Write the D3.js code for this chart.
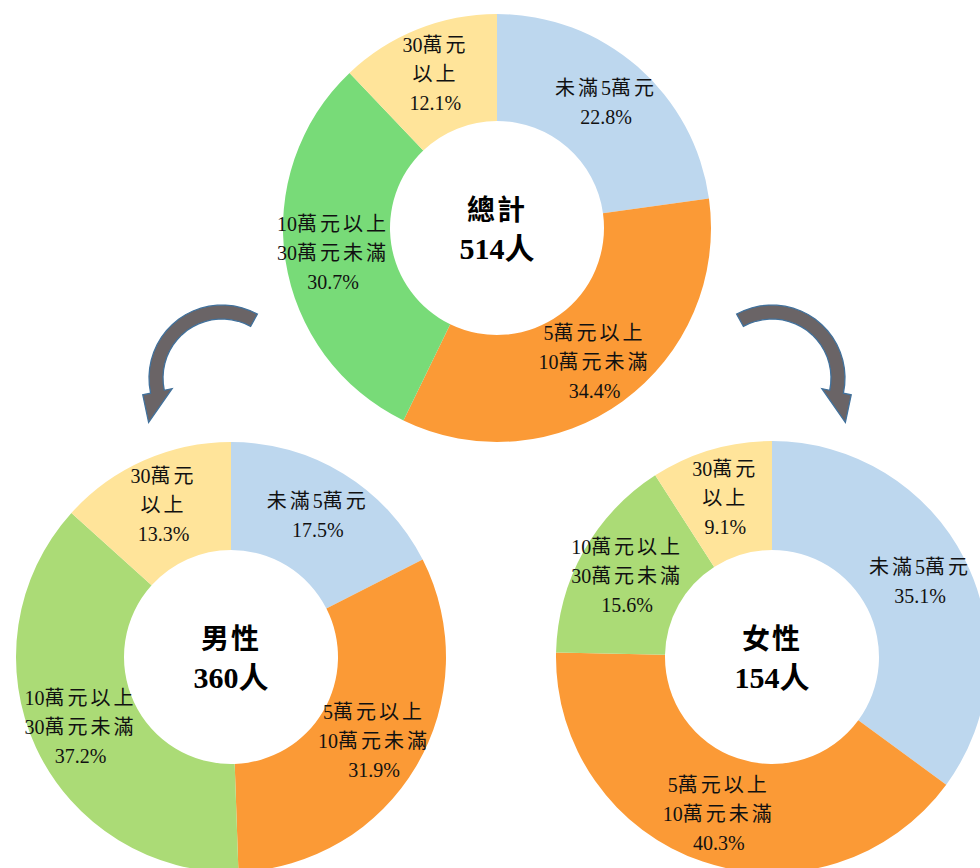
<!DOCTYPE html>
<html>
<head>
<meta charset="utf-8">
<script src="https://cdn.jsdelivr.net/npm/d3@7"></script>
<style>
  body { margin: 0; background: #fff; }
  svg { display: block; }
</style>
</head>
<body>
<div id="chart"></div>
<script>
var width = 980, height = 868;

// data
var categories = ["未滿5萬元", "5萬元以上10萬元未滿", "10萬元以上30萬元未滿", "30萬元以上"];
var labelLines = [["未滿5萬元"], ["5萬元以上", "10萬元未滿"], ["10萬元以上", "30萬元未滿"], ["30萬元", "以上"]];
var totalValues = [22.8, 34.4, 30.7, 12.1];
var maleValues = [17.5, 31.9, 37.2, 13.3];
var femaleValues = [35.1, 40.3, 15.6, 9.1];
var groupNames = ["總計", "男性", "女性"];
var groupCounts = [514, 360, 154];

var blue = "#bdd7ee", orange = "#fb9a36", yellow = "#ffe49a";

var donuts = [
    { name: groupNames[0], count: groupCounts[0], values: totalValues, cx: 497, cy: 228, r: 214,
      colors: [blue, orange, "#78db78", yellow] },
    { name: groupNames[1], count: groupCounts[1], values: maleValues, cx: 231, cy: 657, r: 215,
      colors: [blue, orange, "#abdb76", yellow] },
    { name: groupNames[2], count: groupCounts[2], values: femaleValues, cx: 772, cy: 657, r: 216,
      colors: [blue, orange, "#abdb76", yellow] }
];

var svg = d3.select("#chart").append("svg")
    .attr("width", width)
    .attr("height", height);

var pie = d3.pie().sort(null).value(d => d);

var serif = "'Liberation Serif', 'Times New Roman', 'Noto Sans CJK TC', serif";

// split a line into digit runs and CJK runs, so only CJK gets spaced out
function runs(s) {
    return s.match(/[0-9.%]+|[^0-9.%]+/g);
}

donuts.forEach(function (dn) {
    var g = svg.append("g").attr("transform", `translate(${dn.cx},${dn.cy})`);
    var arc = d3.arc().innerRadius(107).outerRadius(dn.r);
    var labelArc = d3.arc().innerRadius(166).outerRadius(166);
    var slices = pie(dn.values);

    g.selectAll("path")
        .data(slices)
        .enter().append("path")
        .attr("d", arc)
        .attr("fill", (d, i) => dn.colors[i]);

    // slice labels, one text element per line
    slices.forEach(function (d, i) {
        var c = labelArc.centroid(d);
        var lines = labelLines[i].concat([d3.format(".1f")(d.data) + "%"]);
        lines.forEach(function (s, k) {
            var t = g.append("text")
                .attr("text-anchor", "middle")
                .attr("font-family", serif)
                .attr("font-size", 20)
                .attr("fill", "#111")
                .attr("x", c[0])
                .attr("y", c[1] + (k - (lines.length - 1) / 2) * 29)
                .attr("dy", "0.35em");
            runs(s).forEach(function (p) {
                t.append("tspan")
                    .attr("letter-spacing", /[0-9.%]/.test(p) ? 0 : 3)
                    .text(p);
            });
        });
    });

    // center text
    g.append("text")
        .attr("text-anchor", "middle")
        .attr("font-family", serif)
        .attr("font-weight", "bold")
        .attr("font-size", 28)
        .attr("letter-spacing", 2)
        .attr("y", -8)
        .text(dn.name);
    g.append("text")
        .attr("text-anchor", "middle")
        .attr("font-family", serif)
        .attr("font-weight", "bold")
        .attr("font-size", 30)
        .attr("y", 31)
        .text(dn.count + "人");
});

// curved arrows
function arrowPath(cx, cy, s) {
    var r = 66, w = 7, hw = 15, hl = 32, tilt = 28 * Math.PI / 180;
    var a0 = 29 * Math.PI / 180, a1 = -102 * Math.PI / 180;
    var pt = (a, rr) => [cx + s * rr * Math.sin(a), cy - rr * Math.cos(a)];
    var outer = d3.range(0, 1.0001, 0.05).map(t => pt(a0 + (a1 - a0) * t, r + w));
    var inner = d3.range(1, -0.0001, -0.05).map(t => pt(a0 + (a1 - a0) * t, r - w));
    var base = pt(a1, r);
    var dir = [-Math.cos(a1), -Math.sin(a1)];
    var ca = Math.cos(tilt), sa = Math.sin(tilt);
    dir = [dir[0] * ca - dir[1] * sa, dir[0] * sa + dir[1] * ca];
    var tip = [base[0] + s * dir[0] * hl, base[1] + dir[1] * hl];
    var wingO = pt(a1, r + hw), wingI = pt(a1, r - hw);
    var pts = outer.concat([wingO, tip, wingI]).concat(inner);
    return d3.line()(pts) + "Z";
}

svg.append("path")
    .attr("d", arrowPath(222, 378, 1))
    .attr("fill", "#6a6466")
    .attr("stroke", "#41719c")
    .attr("stroke-width", 1.3)
    .attr("stroke-linejoin", "miter");

svg.append("path")
    .attr("d", arrowPath(772, 378, -1))
    .attr("fill", "#6a6466")
    .attr("stroke", "#41719c")
    .attr("stroke-width", 1.3)
    .attr("stroke-linejoin", "miter");
</script>
</body>
</html>
